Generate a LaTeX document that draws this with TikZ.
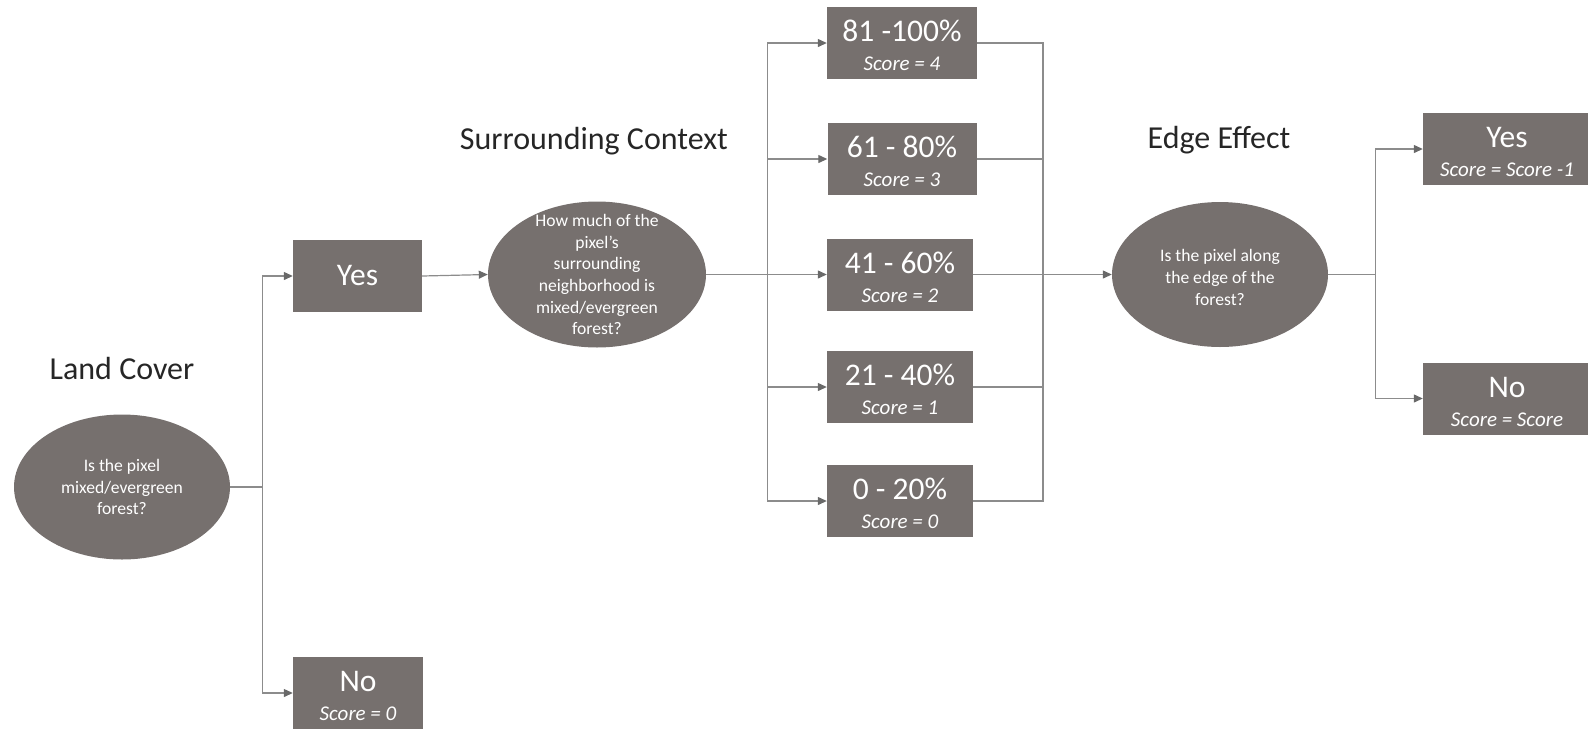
\documentclass[tikz,border=0pt]{standalone}
\usepackage{fontspec}
\setmainfont{Carlito}
\usetikzlibrary{positioning, arrows.meta, shapes.geometric}
\tikzset{>={Triangle[length=9pt,width=8pt]}}
\definecolor{boxgray}{RGB}{118,112,110}
\definecolor{linegray}{RGB}{140,140,140}
\definecolor{tipgray}{RGB}{105,105,105}

\newcommand{\scorebox}[2]{{\fontsize{31.5}{31.5}\selectfont\rule{0pt}{27pt}#1}\\{\itshape #2}}

\begin{document}
\begin{tikzpicture}[x=1pt,y=-1pt,
    every node/.style={text=white},
    choice/.style={rectangle,fill=boxgray,minimum width=148pt,minimum height=72pt,
        inner sep=0pt,align=center,font=\fontsize{21}{29}\selectfont},
    question/.style={ellipse,fill=boxgray,minimum width=216pt,minimum height=145pt,
        inner sep=0pt,align=center,font=\fontsize{17.6}{21.7}\selectfont},
    heading/.style={text=black!85,font=\fontsize{32}{38}\selectfont},
    link/.style={draw=linegray,line width=1.2pt,
        >={Triangle[length=9pt,width=8pt,color=tipgray]}}
    ]

    \useasboundingbox (0,0) rectangle (1588,729);

    %land cover
    \node[heading] (landtitle) at (122,368) {Land Cover};
    \node[question] (land) at (122,487) {Is the pixel\\mixed/evergreen\\forest?};
    \node[choice,minimum width=129pt] (yes1) at (357.5,276) {{\fontsize{31.5}{31.5}\selectfont Yes}};
    \node[choice,minimum width=130pt] (no1) at (358,693) {\scorebox{No}{Score = 0}};

    %surrounding context
    \node[heading] (ctxtitle) at (594,141) {Surrounding Context};
    \node[question,minimum width=218pt,minimum height=146pt,inner ysep=-40pt] (ctx) at (597,274.5)
        {How much of the\\pixel’s\\surrounding\\neighborhood is\\mixed/evergreen\\forest?};
    \node[choice,minimum width=150pt] (s4) at (902,43) {\scorebox{81 -100\%}{Score = 4}};
    \node[choice,minimum width=149pt] (s3) at (902,159) {\scorebox{61 - 80\%}{Score = 3}};
    \node[choice,minimum width=146pt] (s2) at (900,274.5) {\scorebox{41 - 60\%}{Score = 2}};
    \node[choice,minimum width=146pt] (s1) at (900,387) {\scorebox{21 - 40\%}{Score = 1}};
    \node[choice,minimum width=146pt] (s0) at (900,501) {\scorebox{0 - 20\%}{Score = 0}};

    %edge effect
    \node[heading] (edgetitle) at (1219,140) {Edge Effect};
    \node[question,inner ysep=-3pt] (edge) at (1220,274.5) {\rule{0pt}{18pt}Is the pixel along\\the edge of the\\forest?};
    \node[choice,minimum width=168pt] (edgeyes) at (1507,149) {\scorebox{Yes}{Score = Score -1}};
    \node[choice,minimum width=168pt] (edgeno) at (1507,398.5) {\scorebox{No}{Score = Score}};

    %connectors
    \draw[link] (land.east) -- ++(32,0) coordinate (landfork);
    \draw[link,->] (landfork) |- (yes1.west);
    \draw[link,->] (landfork) |- (no1.west);
    \draw[link,->] (yes1.east) -- (ctx.west);

    \draw[link] (ctx.east) -- ++(61,0) coordinate (ctxfork);
    \coordinate (ctxjoin) at (1043,274.5);
    \foreach \s in {s4,s3,s2,s1,s0}{
        \draw[link,->] (ctxfork) |- (\s.west);
        \draw[link] (\s.east) -| (ctxjoin);
    }
    \draw[link,->] (ctxjoin) -- (edge.west);

    \draw[link] (edge.east) -- ++(47,0) coordinate (edgefork);
    \draw[link,->] (edgefork) |- (edgeyes.west);
    \draw[link,->] (edgefork) |- (edgeno.west);

\end{tikzpicture}
\end{document}
